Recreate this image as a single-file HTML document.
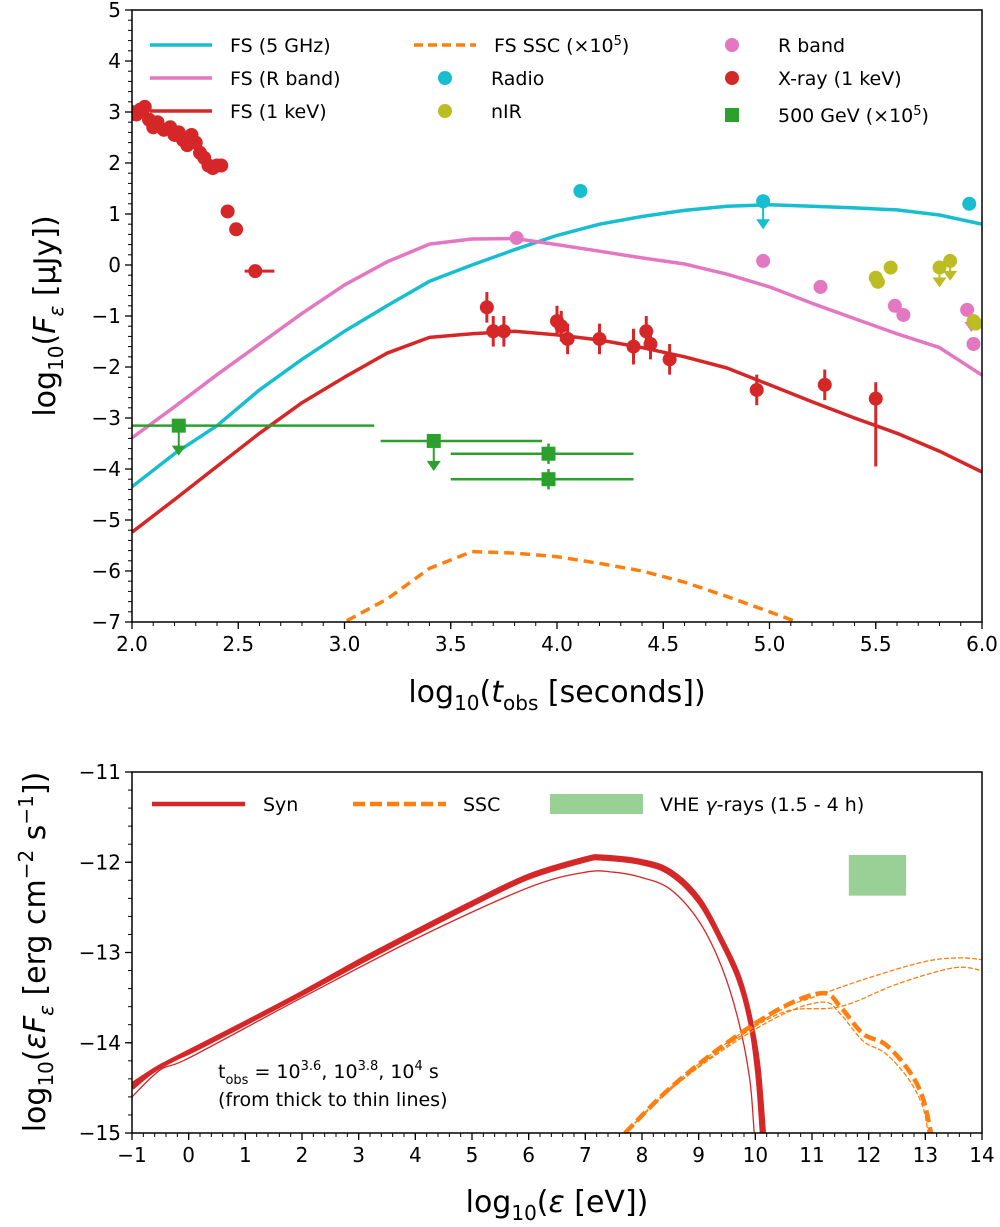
<!DOCTYPE html>
<html><head><meta charset="utf-8"><style>
body{margin:0;background:#fff;}
svg{display:block;font-family:"DejaVu Sans","Liberation Sans",sans-serif;}
</style></head><body>
<svg id="s" width="1000" height="1227" viewBox="0 0 1000 1227" xmlns="http://www.w3.org/2000/svg"></svg>
<script>
// ---------- TOP PANEL DATA ----------
const fsRadioT=[2,2.2,2.4,2.6,2.8,3.0,3.2,3.4,3.6,3.8,4.0,4.2,4.4,4.6,4.8,5.0,5.2,5.4,5.6,5.8,6.0];
const fsRadioV=[-4.35,-3.7,-3.15,-2.45,-1.85,-1.3,-0.8,-0.32,0.0,0.3,0.58,0.8,0.95,1.07,1.15,1.18,1.15,1.12,1.08,0.98,0.8];
const fsRT=[2,2.2,2.4,2.6,2.8,3.0,3.2,3.4,3.6,3.8,4.0,4.2,4.4,4.6,4.8,5.0,5.2,5.4,5.6,5.8,6.0];
const fsRV=[-3.39,-2.78,-2.15,-1.55,-0.95,-0.39,0.06,0.41,0.51,0.52,0.4,0.27,0.14,0.02,-0.18,-0.43,-0.75,-1.05,-1.35,-1.62,-2.16];
const fsXT=[2,2.2,2.4,2.6,2.8,3.0,3.2,3.4,3.6,3.8,4.0,4.2,4.4,4.6,4.8,5.0,5.2,5.4,5.6,5.8,6.0];
const fsXV=[-5.24,-4.6,-3.95,-3.3,-2.7,-2.2,-1.73,-1.42,-1.35,-1.3,-1.37,-1.47,-1.62,-1.8,-2.02,-2.35,-2.68,-3.0,-3.3,-3.65,-4.06];
const sscT=[2.9,3.0,3.2,3.4,3.6,3.8,4.0,4.2,4.4,4.6,4.8,5.0,5.13,5.3];
const sscV=[-7.4,-7.0,-6.55,-5.95,-5.62,-5.65,-5.72,-5.85,-6.0,-6.22,-6.5,-6.8,-7.0,-7.3];
const xrEarlyT=[2.0,2.02,2.04,2.06,2.08,2.1,2.12,2.15,2.18,2.2,2.22,2.24,2.26,2.28,2.3,2.32,2.34,2.36,2.38,2.4,2.42,2.45,2.49];
const xrEarlyV=[3.0,2.95,3.05,3.1,2.85,2.7,2.8,2.65,2.7,2.55,2.6,2.45,2.35,2.55,2.4,2.2,2.1,1.95,1.9,1.95,1.95,1.05,0.7];
const xrT=[3.67,3.7,3.75,4.0,4.02,4.05,4.2,4.36,4.42,4.44,4.53,4.94,5.26,5.5];
const xrV=[-0.83,-1.3,-1.3,-1.1,-1.2,-1.45,-1.45,-1.6,-1.3,-1.55,-1.85,-2.45,-2.35,-2.62];
const xrErrLo=[0.3,0.3,0.3,0.3,0.3,0.3,0.3,0.35,0.3,0.3,0.3,0.3,0.3,1.33];
const xrErrHi=[0.3,0.3,0.3,0.3,0.3,0.3,0.3,0.35,0.3,0.3,0.3,0.3,0.3,0.32];
const radioT=[4.11,4.97,5.94];
const radioV=[1.45,1.25,1.2];
const radioUL=[false,true,false];
const rbandT=[3.81,4.97,5.24,5.59,5.63,5.93,5.96];
const rbandV=[0.53,0.08,-0.43,-0.8,-0.98,-0.88,-1.55];
const nirT=[5.5,5.51,5.57,5.8,5.85,5.96,5.97];
const nirV=[-0.25,-0.33,-0.05,-0.05,0.08,-1.1,-1.15];
const nirUL=[false,false,false,true,true,false,false];
const gevT=[2.22,3.42,3.96,3.96];
const gevV=[-3.15,-3.45,-3.7,-4.2];
const gevXlo=[2.0,3.17,3.5,3.5];
const gevXhi=[3.14,3.93,4.36,4.36];
const gevUL=[true,true,false,false];
const topXTicks=[2.0,2.5,3.0,3.5,4.0,4.5,5.0,5.5,6.0];
const topYTicks=[5,4,3,2,1,0,-1,-2,-3,-4,-5,-6,-7];
// ---------- BOTTOM PANEL DATA ----------
const synThickE=[-1,-0.6,0,1,2,3,4,5,6,7,7.3,8,8.5,9,9.4,9.7,9.9,10.05,10.15];
const synThickV=[-14.5,-14.3,-14.1,-13.78,-13.45,-13.1,-12.77,-12.45,-12.15,-11.96,-11.94,-11.99,-12.1,-12.4,-12.85,-13.25,-13.7,-14.25,-15];
const synMidE=[-1,-0.5,0,1,2,3,4,5,6,7,7.3,8,8.5,9,9.4,9.7,9.9,10.02,10.1];
const synMidV=[-14.45,-14.25,-14.12,-13.8,-13.47,-13.13,-12.8,-12.48,-12.18,-11.99,-11.97,-12.02,-12.14,-12.45,-12.9,-13.32,-13.8,-14.35,-15];
const synThinE=[-1,-0.5,0,2,4,6,7,7.5,8,8.5,9,9.4,9.7,9.9,9.98];
const synThinV=[-14.6,-14.3,-14.17,-13.5,-12.85,-12.28,-12.11,-12.11,-12.17,-12.3,-12.65,-13.15,-13.75,-14.4,-15];
const sscThickE=[7.7,8.5,9.5,10.5,11.2,11.5,11.9,12.3,12.7,12.95,13.1];
const sscThickV=[-15,-14.5,-14.0,-13.6,-13.45,-13.6,-13.9,-14.02,-14.3,-14.6,-15];
const ssc1E=[7.7,8.5,9.5,10.5,11,12,13,13.6,14];
const ssc1V=[-15,-14.5,-14.0,-13.62,-13.5,-13.28,-13.1,-13.06,-13.08];
const ssc2E=[7.7,8.5,9.5,10.5,11.5,12.5,13.5,14];
const ssc2V=[-15,-14.52,-14.03,-13.66,-13.6,-13.35,-13.17,-13.2];
const ssc3E=[7.7,8.5,9.5,10.5,11.2,11.5,11.9,12.3,12.7,12.95,13.05];
const ssc3V=[-15,-14.52,-14.05,-13.68,-13.55,-13.68,-13.98,-14.12,-14.4,-14.7,-15];
const vheE=[11.65,12.66];
const vheV=[-11.92,-12.37];
const botXTicks=[-1,0,1,2,3,4,5,6,7,8,9,10,11,12,13,14];
const botYTicks=[-11,-12,-13,-14,-15];

const NS="http://www.w3.org/2000/svg";
const svg=document.getElementById('s');
function el(tag,attrs,parent){const e=document.createElementNS(NS,tag);for(const k in attrs)e.setAttribute(k,attrs[k]);(parent||svg).appendChild(e);return e;}
const tx=v=>132+(v-2)*212.5, ty=v=>10+(5-v)*51;
const bx=v=>132+(v+1)*56.6667, by=v=>772+(-11-v)*90.25;
const C={cyan:'#17becf',pink:'#e377c2',red:'#d62728',orange:'#ff7f0e',olive:'#bcbd22',green:'#2ca02c'};

function smoothPath(P){
  let d='M'+P[0][0].toFixed(1)+','+P[0][1].toFixed(1);
  for(let i=0;i<P.length-1;i++){
    const p0=P[i-1]||P[i],p1=P[i],p2=P[i+1],p3=P[i+2]||P[i+1];
    const c1=[p1[0]+(p2[0]-p0[0])/6,p1[1]+(p2[1]-p0[1])/6];
    const c2=[p2[0]-(p3[0]-p1[0])/6,p2[1]-(p3[1]-p1[1])/6];
    d+=` C${c1[0].toFixed(1)},${c1[1].toFixed(1)} ${c2[0].toFixed(1)},${c2[1].toFixed(1)} ${p2[0].toFixed(1)},${p2[1].toFixed(1)}`;
  }
  return d;
}
function line(X,Y,fx,fy,stroke,w,dash,name,parent,smooth){
  const P=X.map((x,i)=>[fx(x),fy(Y[i])]);
  let e;
  if(smooth) e=el('path',{d:smoothPath(P),fill:'none',stroke:stroke,'stroke-width':w,'stroke-linejoin':'round'},parent);
  else e=el('polyline',{points:P.map(p=>p[0].toFixed(1)+','+p[1].toFixed(1)).join(' '),fill:'none',stroke:stroke,'stroke-width':w,'stroke-linejoin':'round'},parent);
  if(dash)e.setAttribute('stroke-dasharray',dash);
  
  
  return e;
}
function txt(x,y,s,size,anchor,name,parent){
  const e=el('text',{x:x,y:y,'font-size':size,'text-anchor':anchor||'start',fill:'#000'},parent);
  e.innerHTML=s;
  
  
  return e;
}
function arrow(x,y,len,color,g){
  el('line',{x1:x,y1:y,x2:x,y2:y+len,stroke:color,'stroke-width':2},g);
  el('polygon',{points:`${x-7},${y+len-8} ${x+7},${y+len-8} ${x},${y+len+2}`,fill:color},g);
}

// ======== TOP PANEL ========
const topG=el('g',{});


const clipT=el('clipPath',{id:'ct'});el('rect',{x:132,y:10,width:850,height:612},clipT);
const tp=el('g',{'clip-path':'url(#ct)'},topG);


line(fsRadioT,fsRadioV,tx,ty,C.cyan,3.5,null,'fs-5ghz-line',tp);
line(fsRT,fsRV,tx,ty,C.pink,3.5,null,'fs-r-band-line',tp);
line(fsXT,fsXV,tx,ty,C.red,3.5,null,'fs-1kev-line',tp);
line(sscT,sscV,tx,ty,C.orange,3.5,'10,6','fs-ssc-line',tp);
gevT.forEach((t,i)=>{
  const g=el('g',{},tp);
  
  
  el('line',{x1:tx(gevXlo[i]),y1:ty(gevV[i]),x2:tx(gevXhi[i]),y2:ty(gevV[i]),stroke:C.green,'stroke-width':2.5},g);
  if(gevUL[i])arrow(tx(t),ty(gevV[i]),28,C.green,g);
  else el('line',{x1:tx(t),y1:ty(gevV[i]-0.2),x2:tx(t),y2:ty(gevV[i]+0.2),stroke:C.green,'stroke-width':2.5},g);
  el('rect',{x:tx(t)-7,y:ty(gevV[i])-7,width:14,height:14,fill:C.green},g);
});
xrEarlyT.forEach((t,i)=>{
  const c=el('circle',{cx:tx(t),cy:ty(xrEarlyV[i]),r:7,fill:C.red},tp);
  
  
});
{const g=el('g',{},tp);
 
 
 el('line',{x1:tx(2.53),y1:ty(-0.12),x2:tx(2.67),y2:ty(-0.12),stroke:C.red,'stroke-width':3},g);
 el('circle',{cx:tx(2.58),cy:ty(-0.12),r:7,fill:C.red},g);}
xrT.forEach((t,i)=>{
  const g=el('g',{},tp);
  
  
  el('line',{x1:tx(t),y1:ty(xrV[i]+xrErrHi[i]),x2:tx(t),y2:ty(xrV[i]-xrErrLo[i]),stroke:C.red,'stroke-width':3},g);
  el('circle',{cx:tx(t),cy:ty(xrV[i]),r:7,fill:C.red},g);
});
radioT.forEach((t,i)=>{
  const g=el('g',{},tp);
  
  
  if(radioUL[i])arrow(tx(t),ty(radioV[i]),26,C.cyan,g);
  el('circle',{cx:tx(t),cy:ty(radioV[i]),r:7,fill:C.cyan},g);
});
rbandT.forEach((t,i)=>{
  const c=el('circle',{cx:tx(t),cy:ty(rbandV[i]),r:7,fill:C.pink},tp);
  
  
});
{const g=el('g',{},tp);arrow(tx(5.95),ty(-1.0),14,C.pink,g);}
nirT.forEach((t,i)=>{
  const g=el('g',{},tp);
  
  
  if(nirUL[i])arrow(tx(t),ty(nirV[i]),18,C.olive,g);
  el('circle',{cx:tx(t),cy:ty(nirV[i]),r:7,fill:C.olive},g);
});
el('rect',{x:132,y:10,width:850,height:612,fill:'none',stroke:'#000','stroke-width':1.5},topG);
topXTicks.forEach(v=>{el('line',{x1:tx(v),y1:622,x2:tx(v),y2:629,stroke:'#000','stroke-width':1.3},topG);txt(tx(v),651,v.toFixed(1),20,'middle','x-tick-label',topG);});
for(let v=2;v<=6.001;v+=0.1){el('line',{x1:tx(v),y1:622,x2:tx(v),y2:626,stroke:'#000','stroke-width':1},topG);}
topYTicks.forEach(v=>{el('line',{x1:125,y1:ty(v),x2:132,y2:ty(v),stroke:'#000','stroke-width':1.3},topG);txt(121,ty(v)+7,String(v).replace('-','−'),20,'end','y-tick-label',topG);});
for(let v=-7;v<=5.001;v+=0.2){el('line',{x1:128,y1:ty(v),x2:132,y2:ty(v),stroke:'#000','stroke-width':1},topG);}
txt(557,702,'log<tspan font-size="20" dy="8">10</tspan><tspan dy="-8">(</tspan><tspan font-style="italic">t</tspan><tspan font-size="20" dy="8">obs</tspan><tspan dy="-8"> [seconds])</tspan>',30,'middle','x-axis-title',topG);
{const t=txt(0,0,'log<tspan font-size="20" dy="8">10</tspan><tspan dy="-8">(</tspan><tspan font-style="italic">F</tspan><tspan font-size="20" font-style="italic" dy="8">ε</tspan><tspan dy="-8"> [μJy])</tspan>',30,'middle','y-axis-title',topG);t.setAttribute('transform','translate(55,316) rotate(-90)');}
const lg=el('g',{},topG);


function legLine(x,y,c,dash,label){const g=el('g',{},lg);const l=el('line',{x1:x,y1:y,x2:x+62,y2:y,stroke:c,'stroke-width':3.5},g);if(dash)l.setAttribute('stroke-dasharray',dash);txt(x+80,y+7,label,19,'start','legend-label',g);}
function legMark(x,y,c,sq,label){const g=el('g',{},lg);if(sq)el('rect',{x:x-7,y:y-7,width:14,height:14,fill:c},g);else el('circle',{cx:x,cy:y,r:7,fill:c},g);txt(x+46,y+7,label,19,'start','legend-label',g);}
legLine(150,45,C.cyan,null,'FS (5 GHz)');
legLine(150,78,C.pink,null,'FS (R band)');
legLine(150,111,C.red,null,'FS (1 keV)');
legLine(414,45,C.orange,'9,5','FS SSC (×10<tspan font-size="13" dy="-7">5</tspan><tspan dy="7">)</tspan>');
legMark(445,78,C.cyan,false,'Radio');
legMark(445,111,C.olive,false,'nIR');
legMark(732,45,C.pink,false,'R band');
legMark(732,78,C.red,false,'X-ray (1 keV)');
legMark(732,115,C.green,true,'500 GeV (×10<tspan font-size="13" dy="-7">5</tspan><tspan dy="7">)</tspan>');

// ======== BOTTOM PANEL ========
const botG=el('g',{});


const clipB=el('clipPath',{id:'cb'});el('rect',{x:132,y:772,width:850,height:361},clipB);
const bp=el('g',{'clip-path':'url(#cb)'},botG);


{const r=el('rect',{x:bx(vheE[0]),y:by(vheV[0]),width:bx(vheE[1])-bx(vheE[0]),height:by(vheV[1])-by(vheV[0]),fill:'#98d095'},bp);}
line(synThickE,synThickV,bx,by,C.red,4.5,null,'syn-thick',bp,true);
line(synMidE,synMidV,bx,by,C.red,2.5,null,'syn-mid',bp,true);
line(synThinE,synThinV,bx,by,C.red,1.3,null,'syn-thin',bp,true);
line(sscThickE,sscThickV,bx,by,C.orange,4.5,'12,5','ssc-thick',bp,true);
line(ssc1E,ssc1V,bx,by,C.orange,1.3,'5,2','ssc-thin-1',bp,true);
line(ssc2E,ssc2V,bx,by,C.orange,1.3,'5,2','ssc-thin-2',bp,true);
line(ssc3E,ssc3V,bx,by,C.orange,1.3,'5,2','ssc-thin-3',bp,true);
el('rect',{x:132,y:772,width:850,height:361,fill:'none',stroke:'#000','stroke-width':1.5},botG);
botXTicks.forEach(v=>{el('line',{x1:bx(v),y1:1133,x2:bx(v),y2:1140,stroke:'#000','stroke-width':1.3},botG);txt(bx(v),1162,String(v).replace('-','−'),20,'middle','x-tick-label',botG);});
for(let v=-1;v<=14.001;v+=0.2){el('line',{x1:bx(v),y1:1133,x2:bx(v),y2:1137,stroke:'#000','stroke-width':1},botG);}
botYTicks.forEach(v=>{el('line',{x1:125,y1:by(v),x2:132,y2:by(v),stroke:'#000','stroke-width':1.3},botG);txt(121,by(v)+7,String(v).replace('-','−'),20,'end','y-tick-label',botG);});
for(let v=-15;v<=-11.001;v+=0.2){el('line',{x1:128,y1:by(v),x2:132,y2:by(v),stroke:'#000','stroke-width':1},botG);}
txt(557,1212,'log<tspan font-size="20" dy="8">10</tspan><tspan dy="-8">(</tspan><tspan font-style="italic">ε</tspan><tspan> [eV])</tspan>',30,'middle','x-axis-title',botG);
{const t=txt(0,0,'log<tspan font-size="20" dy="8">10</tspan><tspan dy="-8">(</tspan><tspan font-style="italic">εF</tspan><tspan font-size="20" font-style="italic" dy="8">ε</tspan><tspan dy="-8"> [erg cm</tspan><tspan font-size="20" dy="-12">−2</tspan><tspan dy="12"> s</tspan><tspan font-size="20" dy="-12">−1</tspan><tspan dy="12">])</tspan>',30,'middle','y-axis-title',botG);t.setAttribute('transform','translate(45,952) rotate(-90)');}
const lb=el('g',{},botG);


{const g=el('g',{},lb);el('line',{x1:152,y1:804,x2:245,y2:804,stroke:C.red,'stroke-width':4.5},g);txt(263,811,'Syn',19,'start','legend-label',g);}
{const g=el('g',{},lb);el('line',{x1:353,y1:804,x2:446,y2:804,stroke:C.orange,'stroke-width':4.5,'stroke-dasharray':'12,5'},g);txt(463,811,'SSC',19,'start','legend-label',g);}
{const g=el('g',{},lb);el('rect',{x:550,y:794,width:93,height:20,fill:'#98d095'},g);txt(660,811,'VHE <tspan font-style="italic">γ</tspan>-rays (1.5 - 4 h)',19,'start','legend-label',g);}
txt(218,1078,'t<tspan font-size="13" dy="6">obs</tspan><tspan dy="-6"> = 10</tspan><tspan font-size="13" dy="-8">3.6</tspan><tspan dy="8">, 10</tspan><tspan font-size="13" dy="-8">3.8</tspan><tspan dy="8">, 10</tspan><tspan font-size="13" dy="-8">4</tspan><tspan dy="8"> s</tspan>',19,'start','time-annotation',botG);
txt(218,1106,'(from thick to thin lines)',19,'start','time-annotation-note',botG);
</script>
</body></html>
